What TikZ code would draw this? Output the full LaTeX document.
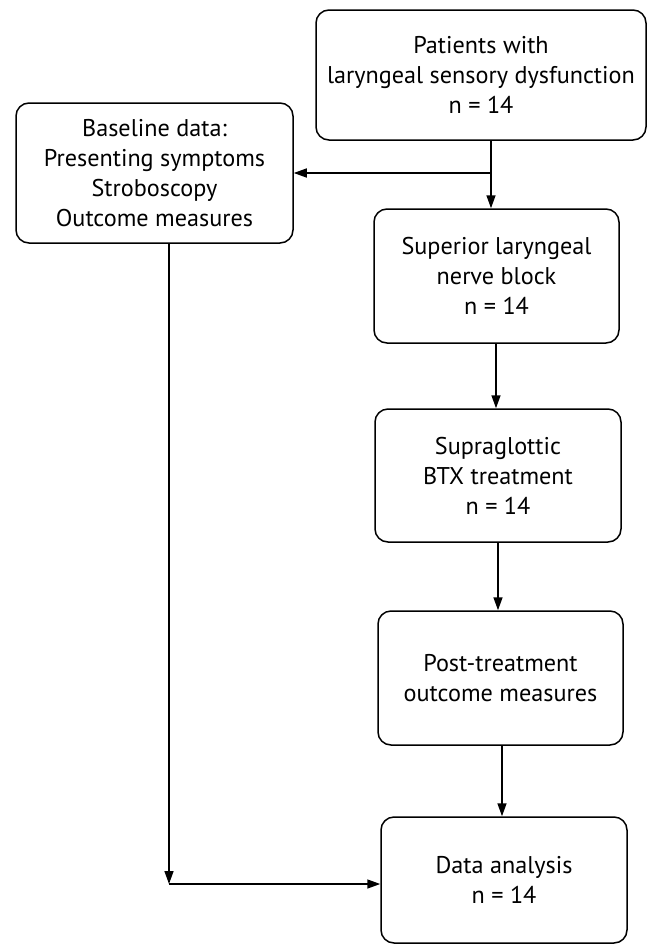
\documentclass[tikz,border=0pt]{standalone}
\usepackage{fontspec}
\setmainfont{PT Sans}
\usetikzlibrary{arrows.meta}
\tikzset{
  box/.style={draw, line width=1.5pt, rounded corners=13pt, align=center, inner sep=0pt,
    font=\fontsize{24.2}{30}\selectfont},
  arr/.style={line width=1.5pt, -{Triangle[length=13pt,width=9pt]}}
}
\begin{document}
\begin{tikzpicture}[x=1pt,y=-1pt]
\useasboundingbox (0,0) rectangle (648,946);
\node[box, minimum width=330pt, minimum height=130pt] (pat) at (481,75) {Patients with\\laryngeal sensory dysfunction\\n = 14};
\node[box, minimum width=277pt, minimum height=140pt] (base) at (154.5,173) {Baseline data:\\Presenting symptoms\\Stroboscopy\\Outcome measures};
\node[box, minimum width=245pt, minimum height=134pt] (slnb) at (496.5,276) {Superior laryngeal\\nerve block\\n = 14};
\node[box, minimum width=246pt, minimum height=133pt] (btx) at (498,475.5) {Supraglottic\\BTX treatment\\n = 14};
\node[box, minimum width=245pt, minimum height=134pt] (post) at (500.5,678) {Post-treatment\\outcome measures};
\node[box, minimum width=246pt, minimum height=126pt] (data) at (504,880) {Data analysis\\n = 14};
\coordinate (split) at (491,173);
\coordinate (corner) at (169,884);
\coordinate (xa) at (496,0);
\coordinate (xb) at (498,0);
\coordinate (xc) at (502,0);
\draw[arr] (pat.south -| split) -- (slnb.north -| split);
\draw[arr] (split) -- (base.east);
\draw[arr] (slnb.south -| xa) -- (btx.north -| xa);
\draw[arr] (btx.south -| xb) -- (post.north -| xb);
\draw[arr] (post.south -| xc) -- (data.north -| xc);
\draw[arr] (base.south -| corner) -- (corner);
\draw[arr] (corner) -- (data.west |- corner);
\end{tikzpicture}
\end{document}
